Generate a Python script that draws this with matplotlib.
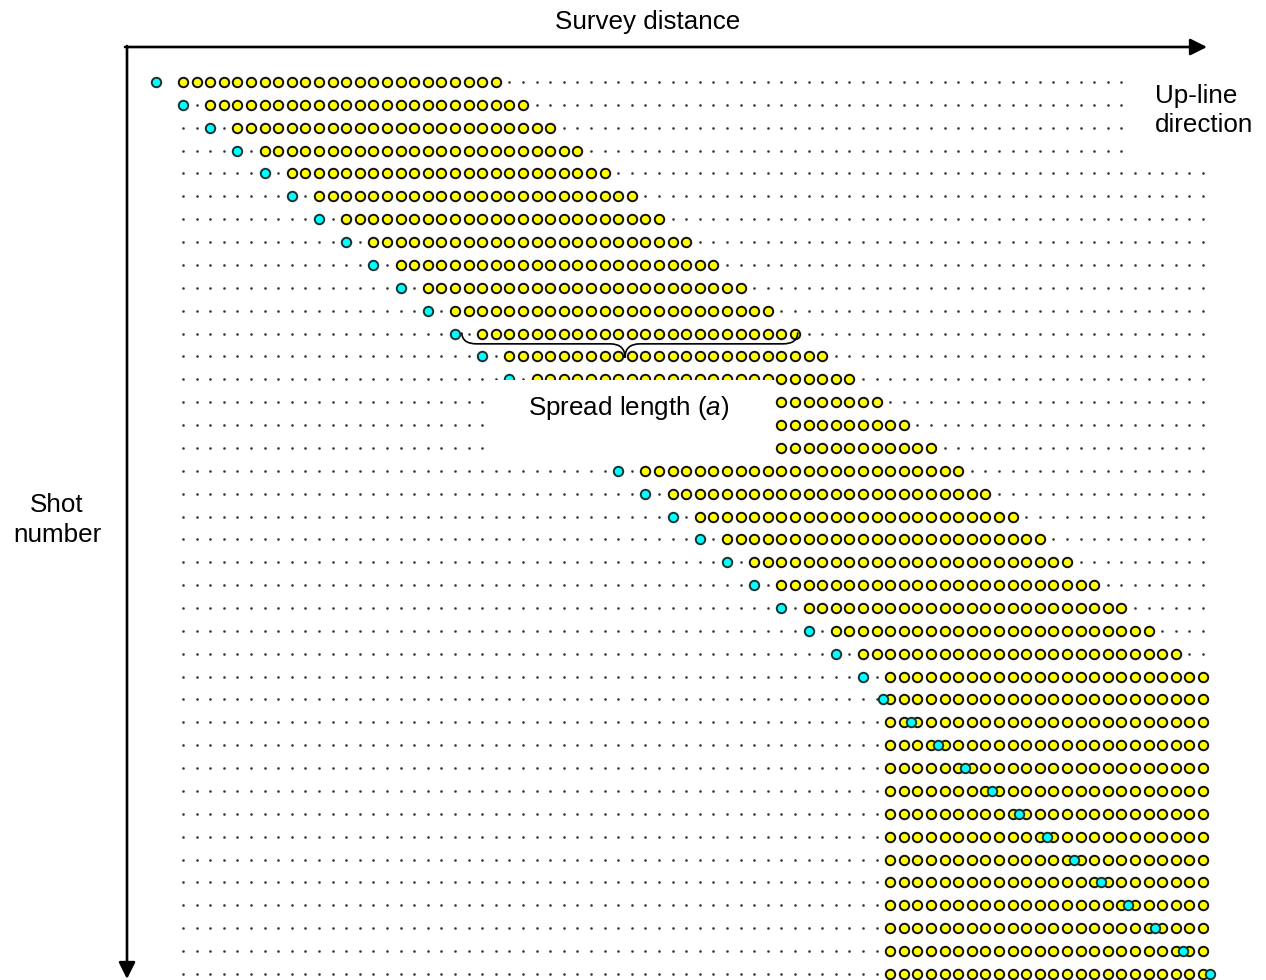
import matplotlib

matplotlib.use("Agg")
import matplotlib.pyplot as plt
from matplotlib.patches import PathPatch, Rectangle
from matplotlib.path import Path

plt.rcParams.update({
    "font.family": ["Liberation Sans", "DejaVu Sans"],
    "mathtext.fontset": "custom",
    "mathtext.rm": "Liberation Sans",
    "mathtext.it": "Liberation Sans:italic",
})

# --- survey geometry ------------------------------------------------------
N_STATIONS = 76          # receiver stations along the line (0..75)
N_CHANNELS = 24          # active geophones per shot
# shot station for each shot (row), top to bottom
shot_station = [-2, 0, 2, 4, 6, 8, 10, 12, 14, 16, 18, 20, 22, 24, 26, 28,
                30, 32, 34, 36, 38, 40, 42, 44, 46, 48, 50,
                51.5, 53.5, 55.5, 57.5, 59.5, 61.5, 63.5, 65.5, 67.5, 69.5,
                71.5, 73.5, 75.5]
# first live station of the spread for each shot
spread_first = [0, 2, 4, 6, 8, 10, 12, 14, 16, 18, 20, 22, 24, 26, 28, 30,
                32, 34, 36, 38, 40, 42, 44, 46, 48, 50, 52,
                52, 52, 52, 52, 52, 52, 52, 52, 52, 52, 52, 52, 52]
brace_row = 11
brace_span = (20.5, 45.2)

W, H = 1266, 980
X0, DX = 183, 13.6      # pixel of station 0, pixels per station
Y0, DY = 82, 22.87      # pixel of shot 0, pixels per shot

INK = "black"
YELLOW = "#ffff00"
CYAN = "#00ffff"
DOT = "#3a3a3a"

fig = plt.figure(figsize=(W / 100, H / 100), dpi=100)
ax = fig.add_axes([0, 0, 1, 1])
ax.set_xlim(-X0 / DX, (W - X0) / DX)
ax.set_ylim((H - Y0) / DY, -Y0 / DY)
ax.axis("off")

for row, (shot, first) in enumerate(zip(shot_station, spread_first)):
    live = list(range(first, first + N_CHANNELS))
    dots = [s for s in range(N_STATIONS) if s not in live and s != shot]
    ax.plot(dots, [row] * len(dots), "o", ms=1.9, color=DOT, mec="none", zorder=2)
    ax.plot(live, [row] * len(live), "o", ms=6.8, mfc=YELLOW, mec="#111111",
            mew=1.4, zorder=3)
    ax.plot([shot], [row], "o", ms=6.8, mfc=CYAN, mec="#163333", mew=1.4, zorder=4)


def px(x, y):
    return (x - X0) / DX, (y - Y0) / DY


# white label backgrounds hiding part of the grid
for (xa, ya), (xb, yb) in ((px(489, 380), px(775, 460)), (px(1130, 58), px(W, 162))):
    ax.add_patch(Rectangle((xa, ya), xb - xa, yb - ya, facecolor="white",
                           edgecolor="none", zorder=5))

# curly brace under the spread
xl, xr = brace_span
xm = (xl + xr) / 2 - 0.35
top, mid, tip = brace_row - 0.05, brace_row + 0.45, brace_row + 1.05
verts = [(xl, top), (xl, mid), (xl + 1.1, mid), (xm - 1.1, mid), (xm, mid), (xm, tip),
         (xm, mid), (xm + 1.1, mid), (xr - 1.1, mid), (xr, mid), (xr, top)]
codes = [Path.MOVETO, Path.CURVE3, Path.CURVE3, Path.LINETO, Path.CURVE3, Path.CURVE3,
         Path.CURVE3, Path.CURVE3, Path.LINETO, Path.CURVE3, Path.CURVE3]
ax.add_patch(PathPatch(Path(verts, codes), facecolor="none", edgecolor=INK,
                       lw=1.2, zorder=6))

# axis arrows
arrow = dict(arrowstyle="-|>,head_length=1.0,head_width=0.5", lw=1.9, color=INK,
             shrinkA=0, shrinkB=0, mutation_scale=10)
ax.annotate("", xy=(1207, H - 47), xytext=(125, H - 47), xycoords="figure pixels",
            textcoords="figure pixels", arrowprops=arrow, zorder=7)
ax.annotate("", xy=(127, H - 979), xytext=(127, H - 46), xycoords="figure pixels",
            textcoords="figure pixels", arrowprops=arrow, zorder=7)

FS = 18.7
fig.text(648 / W, 1 - 29 / H, "Survey distance", ha="center", va="baseline", fontsize=FS)
fig.text(57 / W, 1 - 512 / H, "Shot", ha="center", va="baseline", fontsize=FS)
fig.text(57 / W, 1 - 542 / H, "number", ha="center", va="baseline", fontsize=FS)
fig.text(1155 / W, 1 - 103 / H, "Up-line", ha="left", va="baseline", fontsize=FS)
fig.text(1155 / W, 1 - 132 / H, "direction", ha="left", va="baseline", fontsize=FS)
fig.text(528 / W, 1 - 415 / H, "Spread length ($a$)", ha="left", va="baseline",
         fontsize=FS, zorder=8)

fig.savefig("out.png", dpi=100, facecolor="white")
